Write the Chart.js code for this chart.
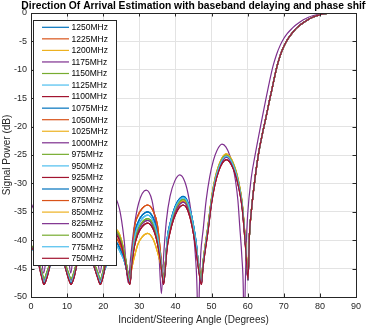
<!DOCTYPE html>
<html>
<head>
<meta charset="utf-8">
<script src="https://cdn.jsdelivr.net/npm/chart.js"></script>
<style>
  html, body { margin: 0; padding: 0; background: #fff; }
  canvas { display: block; }
</style>
</head>
<body>
<canvas id="doaChart" width="366" height="326"></canvas>
<script>
// Frecuencias de la leyenda
const freqLabels = ['1250MHz', '1225MHz', '1200MHz', '1175MHz', '1150MHz', '1125MHz', '1100MHz',
  '1075MHz', '1050MHz', '1025MHz', '1000MHz', '975MHz', '950MHz', '925MHz', '900MHz', '875MHz',
  '850MHz', '825MHz', '800MHz', '775MHz', '750MHz'];

// Ticks
const xTicks = [0, 10, 20, 30, 40, 50, 60, 70, 80, 90];
const yTicks = [0, -5, -10, -15, -20, -25, -30, -35, -40, -45, -50];

// Angulos de los lobulos laterales (comunes a casi todas las curvas)
const sideAngles = [0, 1, 2, 3, 3.6, 4.4, 5.5, 7.3, 9, 10.3, 11.1, 11.9, 13, 14.9, 16.8, 18.4, 19.2, 20,
  21.2, 23.3, 25, 26.2, 26.9, 27.4, 27.9, 28.6, 29.6, 30.8, 32.3, 33.8, 35, 35.8, 36.3, 36.7, 37.2, 37.7,
  38.5, 39.5, 40.5, 41.3, 42.1, 43, 44, 45, 45.8, 46.5, 47.2, 47.6, 48.2, 49, 50, 51, 52, 53, 54.1, 55,
  56, 57, 58, 58.5, 59, 59.5, 60.1];

// Lobulos laterales por grupo de color (dB)
const blueDb = [-41.2, -41.9, -43.8, -46.3, -47.5, -46.3, -44.0, -41.8, -43.8, -46.3,
  -47.5, -46.3, -43.6, -41.3, -43.5, -46.2, -47.5, -46.0, -43.7, -40.2,
  -42.0, -44.5, -46.5, -47.5, -44.2, -39.2, -36.9, -35.6, -35.0, -36.0,
  -38.5, -42.5, -45.7, -47.5, -44.7, -39.8, -37.1, -34.8, -33.3, -32.6,
  -32.3, -32.7, -34.4, -37.4, -40.7, -45.2, -47.5, -44.7, -41.5, -38.0,
  -33.0, -29.5, -27.3, -25.9, -25.3, -25.7, -26.9, -28.8, -31.8, -34.0,
  -37.5, -41.5, -47.0];
const orangeDb = [-41.0, -41.7, -43.6, -46.1, -47.3, -46.1, -43.7, -41.5, -43.5, -46.1,
  -47.3, -46.1, -43.3, -41.0, -43.2, -46.0, -47.3, -45.8, -43.0, -39.5,
  -41.3, -43.8, -46.3, -47.3, -44.0, -38.0, -35.7, -34.4, -33.8, -34.8,
  -37.3, -41.8, -45.5, -47.3, -44.5, -40.6, -37.9, -35.6, -34.1, -33.4,
  -33.1, -33.5, -35.2, -38.2, -41.5, -45.0, -47.3, -44.5, -41.3, -37.8,
  -32.8, -29.3, -27.1, -25.7, -25.1, -25.5, -26.7, -28.6, -31.6, -33.8,
  -37.3, -41.3, -46.8];
const yellowDb = [-41.3, -42.0, -43.8, -45.8, -47.0, -45.8, -43.8, -41.6, -43.6, -45.8,
  -47.0, -45.8, -43.1, -40.8, -43.0, -45.7, -47.0, -45.5, -41.5, -38.0,
  -39.8, -43.5, -46.0, -47.0, -45.0, -43.0, -40.7, -39.4, -38.8, -39.8,
  -42.0, -44.0, -45.5, -47.0, -44.2, -40.5, -37.8, -35.5, -34.0, -33.3,
  -33.0, -33.4, -35.1, -38.1, -41.4, -44.7, -47.0, -44.2, -41.0, -37.5,
  -32.5, -29.0, -26.8, -25.4, -24.8, -25.2, -26.4, -28.3, -31.3, -33.5,
  -37.0, -41.0, -46.4];
const purpleDb = [-41.1, -41.8, -43.7, -45.8, -47.0, -45.8, -43.7, -41.5, -43.5, -45.8,
  -47.0, -45.8, -43.3, -41.0, -43.2, -45.7, -47.0, -45.5, -42.1, -38.6,
  -40.4, -43.5, -46.0, -47.0, -44.0, -40.7, -38.4, -37.1, -36.5, -37.5,
  -40.0, -43.0, -45.2, -47.0, -44.2, -40.8, -38.1, -35.8, -34.3, -33.6,
  -33.3, -33.7, -35.4, -38.4, -41.7, -44.7, -47.0, -44.2, -41.6, -38.1,
  -33.1, -29.6, -27.4, -26.0, -25.4, -25.8, -27.0, -28.9, -31.9, -34.1,
  -37.6, -41.6, -46.6];
const greenDb = [-40.9, -41.6, -43.5, -45.6, -46.8, -45.6, -43.6, -41.4, -43.4, -45.6,
  -46.8, -45.6, -43.2, -40.9, -43.1, -45.5, -46.8, -45.3, -41.8, -38.3,
  -40.1, -43.3, -45.8, -46.8, -43.8, -40.4, -38.1, -36.8, -36.2, -37.2,
  -39.7, -42.7, -45.0, -46.8, -44.0, -40.3, -37.6, -35.3, -33.8, -33.1,
  -32.8, -33.2, -34.9, -37.9, -41.2, -44.5, -46.8, -44.0, -41.2, -37.7,
  -32.7, -29.2, -27.0, -25.6, -25.0, -25.4, -26.6, -28.5, -31.5, -33.7,
  -37.2, -41.2, -46.5];
const lightBlueDb = [-41.4, -42.1, -44.0, -46.1, -47.3, -46.1, -44.2, -42.0, -44.0, -46.1,
  -47.3, -46.1, -43.8, -41.5, -43.7, -46.0, -47.3, -45.8, -44.0, -40.8,
  -42.5, -44.3, -46.3, -47.3, -44.0, -39.8, -37.5, -36.2, -35.6, -36.6,
  -39.1, -42.8, -45.5, -47.3, -44.5, -40.0, -37.3, -35.0, -33.5, -32.8,
  -32.5, -32.9, -34.6, -37.6, -40.9, -45.0, -47.3, -44.5, -41.4, -37.9,
  -32.9, -29.4, -27.2, -25.8, -25.2, -25.6, -26.8, -28.7, -31.7, -33.9,
  -37.4, -41.4, -46.9];
const darkRedDb = [-41.3, -42.0, -43.9, -46.6, -47.8, -46.6, -44.0, -41.8, -43.8, -46.6,
  -47.8, -46.6, -43.5, -41.2, -43.4, -46.5, -47.8, -46.3, -42.5, -39.0,
  -40.8, -44.3, -46.8, -47.8, -44.5, -41.2, -38.9, -37.6, -37.0, -38.0,
  -40.5, -43.5, -46.0, -47.8, -45.0, -41.3, -38.6, -36.3, -34.8, -34.1,
  -33.8, -34.2, -35.9, -38.9, -42.2, -45.5, -47.8, -45.0, -42.0, -38.5,
  -33.5, -30.0, -27.8, -26.4, -25.8, -26.2, -27.4, -29.3, -32.3, -34.5,
  -38.0, -42.0, -47.0];

// Lobulo principal compartido (se superponen)
const beamAngles = [60.5, 61, 62, 63, 64, 65, 66, 67, 68, 69, 70, 71, 72, 73, 74, 75, 76, 77, 78,
  79, 80, 81, 82, 83, 84, 86, 88, 90];
const beamDb = [-39.0, -35.0, -29.3, -24.8, -21.5, -18.6, -15.5, -12.6, -9.7, -7.5, -5.9, -4.7,
  -3.8, -3.0, -2.4, -1.9, -1.45, -1.05, -0.75, -0.5, -0.32, -0.18, -0.09, -0.03, 0, 0, 0, 0];

// Curva distinta (1000MHz)
const outlierAngles = [0, 1, 2, 2.8, 3.5, 4.3, 5.2, 7.2, 9, 10.3, 11.0, 11.7, 12.8, 14.8, 16.7, 18.3,
  19.1, 19.9, 21.0, 22.8, 24.5, 25.8, 26.9, 27.6, 28.5, 29.8, 31.9, 33.5, 34.5, 35.4, 36.1, 36.8,
  37.5, 38.5, 39.8, 41.2, 42.6, 43.7, 44.7, 45.5, 46.0, 46.3, 46.6, 47.0, 47.7, 48.5, 49.5, 50.5,
  51.5, 52.9, 54, 55, 56, 56.6, 57.3, 57.8, 58.4, 58.8, 59.0, 59.3, 59.6, 60, 61, 62, 63, 64, 65,
  66, 67, 68, 69, 70, 71, 72, 73, 74, 75, 76, 77, 78, 79, 80, 81, 82, 83, 84, 86, 88, 90];
const outlierDb = [-33.5, -35.0, -38.5, -42.5, -45.8, -42.5, -38.0, -33.3, -37.5, -42.5,
  -45.8, -42.5, -37.5, -33.0, -37.0, -42.5, -45.8, -42.5, -36.5, -32.4,
  -34.5, -40.0, -47.5, -43.0, -38.0, -33.5, -31.2, -33.0, -37.0, -42.0,
  -49.4, -42.0, -36.5, -32.3, -29.6, -28.5, -29.7, -32.5, -37.0, -42.5,
  -49.0, -60.0, -49.0, -42.5, -38.0, -33.0, -28.8, -26.0, -24.2, -23.1,
  -23.6, -25.0, -27.3, -29.4, -33.0, -37.5, -43.0, -49.0, -60.0, -49.0,
  -41.0, -35.5, -29.0, -25.2, -21.8, -18.5, -15.3, -12.2, -9.4, -7.3,
  -5.7, -4.5, -3.6, -2.9, -2.3, -1.8, -1.35, -1.0, -0.7, -0.48,
  -0.32, -0.2, -0.11, -0.05, -0.02, 0, 0, 0, 0];

// Que perfil usa cada serie
const seriesProfile = [blueDb, orangeDb, yellowDb, purpleDb, greenDb, lightBlueDb, darkRedDb,
  blueDb, orangeDb, yellowDb, null, greenDb, lightBlueDb, darkRedDb,
  blueDb, orangeDb, yellowDb, purpleDb, greenDb, lightBlueDb, darkRedDb];

// Colores por defecto de MATLAB
const palette = ['#0072BD', '#D95319', '#EDB120', '#7E2F8E', '#77AC30', '#4DBEEE', '#A2142F'];

const FONT = '"Liberation Sans", Arial, Helvetica, sans-serif';
const AXIS_COLOR = '#262626';

function buildPoints(angles, values) {
  return angles.map((a, i) => ({ x: a, y: values[i] }));
}

const datasets = freqLabels.map((label, i) => {
  const profile = seriesProfile[i];
  const data = profile
    ? buildPoints(sideAngles, profile).concat(buildPoints(beamAngles, beamDb))
    : buildPoints(outlierAngles, outlierDb);
  return {
    label: label,
    data: data,
    borderColor: palette[i % 7],
    backgroundColor: palette[i % 7],
    borderWidth: 1.2,
    pointRadius: 0,
    fill: false,
    cubicInterpolationMode: 'monotone',
    order: -i
  };
});

// Caja, ticks hacia adentro, leyenda y textos
const decorPlugin = {
  id: 'decor',
  afterDraw(chart) {
    const ctx = chart.ctx;
    const area = chart.chartArea;
    const xs = chart.scales.x;
    const ys = chart.scales.y;
    ctx.save();

    // caja
    ctx.strokeStyle = AXIS_COLOR;
    ctx.lineWidth = 1;
    ctx.strokeRect(Math.round(area.left) + 0.5, Math.round(area.top) + 0.5,
      Math.round(area.right - area.left), Math.round(area.bottom - area.top));

    // ticks
    ctx.beginPath();
    xTicks.forEach(v => {
      const px = Math.round(xs.getPixelForValue(v)) + 0.5;
      ctx.moveTo(px, area.bottom); ctx.lineTo(px, area.bottom - 3.5);
      ctx.moveTo(px, area.top); ctx.lineTo(px, area.top + 3.5);
    });
    yTicks.forEach(v => {
      const py = Math.round(ys.getPixelForValue(v)) + 0.5;
      ctx.moveTo(area.left, py); ctx.lineTo(area.left + 3.5, py);
      ctx.moveTo(area.right, py); ctx.lineTo(area.right - 3.5, py);
    });
    ctx.stroke();

    // leyenda
    const lx = 33, ly = 20, lw = 84, lh = 246;
    ctx.fillStyle = '#ffffff';
    ctx.fillRect(lx, ly, lw, lh);
    ctx.strokeStyle = AXIS_COLOR;
    ctx.strokeRect(lx + 0.5, ly + 0.5, lw - 1, lh - 1);
    ctx.font = '8.5px ' + FONT;
    ctx.textAlign = 'left';
    ctx.textBaseline = 'middle';
    chart.data.datasets.forEach((ds, i) => {
      const y = 27.3 + i * 11.55;
      ctx.strokeStyle = ds.borderColor;
      ctx.lineWidth = 1.2;
      ctx.beginPath();
      ctx.moveTo(42, y); ctx.lineTo(69, y);
      ctx.stroke();
      ctx.fillStyle = '#000000';
      ctx.fillText(ds.label, 71.5, y + 0.5);
    });

    // titulo
    ctx.fillStyle = '#000000';
    ctx.font = 'bold 10.3px ' + FONT;
    ctx.textAlign = 'center';
    ctx.textBaseline = 'alphabetic';
    ctx.fillText('Direction Of Arrival Estimation with baseband delaying and phase shift', 195, 8.8);

    // titulos de ejes
    ctx.fillStyle = AXIS_COLOR;
    ctx.font = '10px ' + FONT;
    ctx.fillText('Incident/Steering Angle (Degrees)', (area.left + area.right) / 2, 322.5);
    ctx.translate(7.5, (area.top + area.bottom) / 2);
    ctx.rotate(-Math.PI / 2);
    ctx.textBaseline = 'middle';
    ctx.fillText('Signal Power (dB)', 0, 0);

    ctx.restore();
  }
};

const doaCtx = document.getElementById('doaChart').getContext('2d');
const doaChart = new Chart(doaCtx, {
  type: 'line',
  data: { datasets: datasets },
  options: {
    responsive: false,
    animation: false,
    devicePixelRatio: 1,
    layout: { padding: { top: 13, right: 10, left: 0, bottom: 0 } },
    plugins: {
      legend: { display: false },
      title: { display: false },
      tooltip: { enabled: false }
    },
    scales: {
      x: {
        type: 'linear',
        min: 0,
        max: 90,
        afterBuildTicks: s => { s.ticks = xTicks.map(v => ({ value: v })); },
        afterFit: s => { s.height = 29; },
        grid: { color: '#e3e3e3', lineWidth: 1, drawTicks: false },
        border: { display: false },
        ticks: {
          padding: 4,
          color: AXIS_COLOR,
          font: { family: FONT, size: 9 },
          maxRotation: 0
        }
      },
      y: {
        type: 'linear',
        min: -50,
        max: 0,
        afterBuildTicks: s => { s.ticks = yTicks.map(v => ({ value: v })); },
        afterFit: s => { s.width = 31; },
        grid: { color: '#e3e3e3', lineWidth: 1, drawTicks: false },
        border: { display: false },
        ticks: {
          padding: 4,
          color: AXIS_COLOR,
          font: { family: FONT, size: 9 }
        }
      }
    }
  },
  plugins: [decorPlugin]
});
</script>
</body>
</html>
